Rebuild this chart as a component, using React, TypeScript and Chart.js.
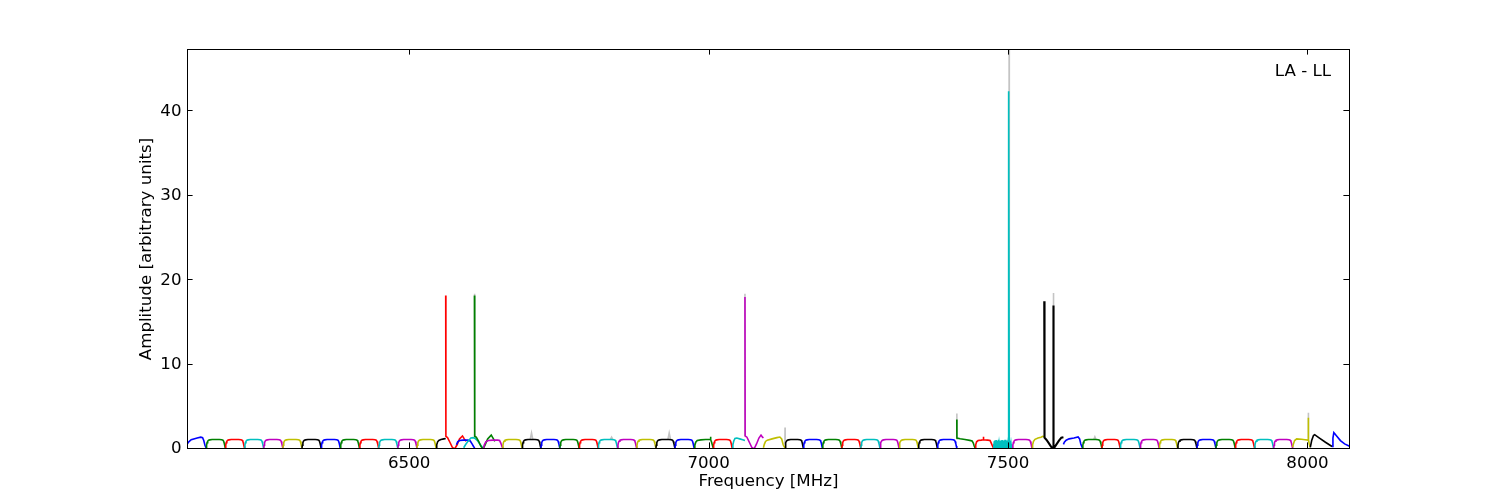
import React, { useEffect, useRef } from 'react';
import { Chart, registerables } from 'chart.js';

Chart.register(...registerables);

// ---------- axes ----------
const X_MIN = 6129;
const X_MAX = 8071;
const Y_MIN = 0;
const Y_MAX = 47.4;
const X_TICKS = [6500, 7000, 7500, 8000];
const Y_TICKS = [0, 10, 20, 30, 40];
const X_LABEL = 'Frequency [MHz]';
const Y_LABEL = 'Amplitude [arbitrary units]';
const PANEL_LABEL = 'LA - LL';

// ---------- colours (matplotlib classic cycle) ----------
const COLORS: Record<string, string> = {
  b: '#0000ff', g: '#008000', r: '#ff0000', c: '#00bfbf', m: '#bf00bf', y: '#bfbf00', k: '#000000',
};
const REF_COLOR = '#c4c4c4';

// ---------- typical sub-band bandpass (position within band, amplitude) ----------
const SHAPE_POS = [0, 0.022, 0.047, 0.078, 0.125, 0.19, 0.31, 0.5, 0.69, 0.81, 0.875, 0.915, 0.947, 0.975, 1];
const SHAPE_AMP = [0.12, 0.45, 0.75, 0.92, 1.03, 1.08, 1.12, 1.13, 1.12, 1.1, 1.05, 0.9, 0.65, 0.35, 0.12];

// ---------- regular sub-bands ----------
const STD_START = [
  6161, 6193, 6225, 6257, 6289, 6321, 6353, 6385, 6417, 6449, 6481, 6513,
  6655.8, 6688.6, 6719.8, 6751.5, 6783.8, 6815.5, 6847.9, 6879.7, 6912, 6943.7, 7007.7,
  7127.6, 7158.2, 7190, 7222.4, 7254, 7286.2, 7318, 7350.2, 7382, 7507.3,
  7624.2, 7656.7, 7687.2, 7720.6, 7752.4, 7783, 7815.4, 7847.1, 7879.4, 7911.6, 7943.4,
];
const STD_END = [
  6193, 6225, 6257, 6289, 6321, 6353, 6385, 6417, 6449, 6481, 6513, 6545,
  6688.6, 6719.8, 6751.5, 6783.8, 6815.5, 6847.9, 6879.7, 6912, 6943.7, 6975.9, 7039.4,
  7158.2, 7190, 7222.4, 7254, 7286.2, 7318, 7350.2, 7382, 7414.4, 7540,
  7656.7, 7687.2, 7720.6, 7752.4, 7783, 7815.4, 7847.1, 7879.4, 7911.6, 7943.4, 7975.1,
];
const STD_COLOR = [
  'g', 'r', 'c', 'm', 'y', 'k', 'b', 'g', 'r', 'c', 'm', 'y',
  'y', 'k', 'b', 'g', 'r', 'c', 'm', 'y', 'k', 'b', 'r',
  'k', 'b', 'g', 'r', 'c', 'm', 'y', 'k', 'b', 'm',
  'g', 'r', 'c', 'm', 'y', 'k', 'b', 'g', 'r', 'c', 'm',
];

// ---------- irregular sub-bands: [frequency MHz, amplitude] ----------
type Pt = [number, number];
const BAND_B_6129: Pt[] = [[6129, 0.55], [6132, 0.85], [6136, 1.1], [6146, 1.3], [6152, 1.4], [6155, 1.35], [6157, 1.0], [6159, 0.45], [6161, 0.12]];
const BAND_K_6545: Pt[] = [[6545, 0.12], [6546, 0.5], [6547.5, 0.85], [6549.5, 1.02], [6553, 1.12], [6558, 1.2], [6561, 1.25]];
const BAND_R_6561: Pt[] = [[6561, 18.2], [6561.3, 1.5], [6564, 1.35], [6568, 0.8], [6572, 0.2], [6576, 0.02], [6580, 0.5], [6584, 1.2], [6589, 1.55], [6592, 1.2], [6595, 0.9]];
const BAND_B_6579: Pt[] = [[6579, 0.5], [6581, 0.85], [6584, 1.0], [6590, 1.05], [6598, 1.05], [6602, 0.95], [6605, 0.6], [6607.5, 0.3], [6609.5, 0.12]];
const BAND_C_6591: Pt[] = [[6591, 0.15], [6594, 0.5], [6598, 0.9], [6603, 1.3], [6607, 1.35], [6610, 1.25], [6614, 1.0], [6618, 0.6], [6621, 0.3], [6623.5, 0.12]];
const BAND_G_6609: Pt[] = [[6609, 18.2], [6609.4, 1.5], [6612, 1.4], [6616, 0.9], [6620, 0.3], [6623.5, 0.02], [6627, 0.5], [6631, 1.2], [6637, 1.65], [6640, 1.3], [6643, 0.9]];
const BAND_M_6624: Pt[] = [[6624, 0.12], [6625.5, 0.5], [6628, 0.85], [6632, 1.0], [6640, 1.05], [6648, 1.05], [6651, 1.0], [6653, 0.7], [6655, 0.3], [6656, 0.12]];
const BAND_G_6976: Pt[] = [[6975.9, 0.12], [6977, 0.45], [6978.5, 0.8], [6981, 1.0], [6987, 1.08], [6995, 1.12], [7003, 1.12], [7003.3, 1.45], [7003.6, 1.1], [7005, 0.8], [7006.5, 0.4], [7007.7, 0.12]];
const BAND_C_7039: Pt[] = [[7039.4, 0.12], [7040.5, 0.5], [7042, 0.95], [7044, 1.25], [7047, 1.3], [7052, 1.2], [7057, 1.1], [7060.7, 1.0]];
const BAND_M_7061: Pt[] = [[7060.7, 18.0], [7061, 1.55], [7064, 1.4], [7068, 0.8], [7072, 0.2], [7076, 0.02], [7080, 0.6], [7084, 1.3], [7087.5, 1.65], [7090, 1.4], [7091.5, 1.3]];
const BAND_Y_7091: Pt[] = [[7091.5, 0.15], [7093, 0.55], [7095, 0.9], [7098, 1.05], [7106, 1.2], [7114, 1.35], [7119, 1.42], [7122, 1.2], [7124.5, 0.5], [7127.6, 0.12]];
const BAND_G_7414: Pt[] = [[7414.4, 3.5], [7414.6, 1.3], [7420, 1.22], [7428, 1.12], [7436, 1.02], [7440, 0.95], [7442, 0.7], [7443.5, 0.35], [7445, 0.12]];
const BAND_R_7445: Pt[] = [[7445, 0.12], [7446, 0.5], [7447.5, 0.85], [7450, 1.0], [7455, 1.05], [7458.3, 1.1], [7458.8, 1.45], [7459.3, 1.1], [7466, 1.05], [7470, 1.0], [7472, 0.7], [7474, 0.35], [7475.5, 0.12]];
const BAND_Y_7540: Pt[] = [[7540, 0.12], [7541, 0.5], [7542.5, 0.9], [7545, 1.15], [7550, 1.3], [7555, 1.4], [7558, 1.5], [7560.5, 1.45]];
const BAND_K_7560: Pt[] = [[7560.5, 17.5], [7560.9, 1.35], [7564, 1.1], [7568, 0.7], [7572, 0.25], [7575.6, 0.02], [7575.8, 17.0], [7576, 0.02], [7580, 0.45], [7585, 1.0], [7589, 1.35], [7592.5, 1.4]];
const BAND_B_7592: Pt[] = [[7592.5, 0.55], [7594, 0.8], [7597, 1.05], [7602, 1.2], [7610, 1.3], [7617, 1.42], [7619.5, 1.2], [7621.5, 0.6], [7624.2, 0.12]];
const BAND_Y_7975: Pt[] = [[7975.1, 0.2], [7976.5, 0.6], [7978.5, 1.0], [7982, 1.2], [7990, 1.15], [7996, 1.1], [8001.2, 1.05], [8001.4, 3.7], [8001.7, 1.1], [8003, 0.6], [8004.7, 0.2]];
const BAND_K_8005: Pt[] = [[8004.7, 0.2], [8007, 1.0], [8010, 1.6], [8012, 1.7], [8020, 1.3], [8030, 0.8], [8041, 0.3]];
const BAND_B_8041: Pt[] = [[8041, 0.3], [8042.5, 1.3], [8044, 1.95], [8048, 1.6], [8055, 1.0], [8062, 0.6], [8071, 0.3]];

// noisy cyan sub-band with the strong line near 7502 MHz (0.5 MHz channels)
const NOISE_C_START = 7475.5;
const NOISE_C_STEP = 0.5;
const NOISE_C_AMP = [
  0.12, 0.6, 0.2, 0.9, 0.1, 1.0, 0.3, 0.85, 0.05, 1.05, 0.25, 0.9, 0.1, 0.95, 0.4, 0.8,
  0.05, 1.1, 0.2, 0.7, 0.1, 0.95, 0.3, 1.0, 0.15, 0.85, 0.05, 0.9, 0.35, 1.05, 0.1, 0.8,
  0.2, 0.95, 0.05, 1.0, 0.3, 0.9, 0.1, 1.1, 0.25, 0.85, 0.05, 0.95, 0.2, 1.0, 0.1, 0.9,
  0.3, 0.8, 0.05, 1.05, 42.4, 0.9, 0.15, 1.0, 0.3, 0.85, 0.1, 0.6, 0.2, 0.12,
];

const SPECIAL_BANDS: [string, Pt[], number][] = [
  ['b', BAND_B_6129, 1.6], ['k', BAND_K_6545, 1.6], ['r', BAND_R_6561, 1.6], ['b', BAND_B_6579, 1.6],
  ['c', BAND_C_6591, 1.6], ['g', BAND_G_6609, 1.6], ['m', BAND_M_6624, 1.6], ['g', BAND_G_6976, 1.6],
  ['c', BAND_C_7039, 1.6], ['m', BAND_M_7061, 1.6], ['y', BAND_Y_7091, 1.6], ['g', BAND_G_7414, 1.6],
  ['r', BAND_R_7445, 1.6], ['y', BAND_Y_7540, 1.6], ['k', BAND_K_7560, 2.1], ['b', BAND_B_7592, 1.6],
  ['y', BAND_Y_7975, 1.6], ['k', BAND_K_8005, 1.6], ['b', BAND_B_8041, 1.6],
];

// ---------- grey reference spectrum (only visible where it exceeds the colours) ----------
const REF_SEGMENTS: Pt[][] = [
  [[6608.6, 1.5], [6609, 18.4], [6609.6, 1.8], [6610.5, 1.5]],
  [[6702, 1.1], [6704.3, 1.9], [6706.5, 1.1]],
  [[6836, 1.15], [6838, 1.4], [6840, 1.15]],
  [[6932, 1.1], [6934.2, 1.9], [6936.5, 1.1]],
  [[7060.4, 1.5], [7060.7, 18.4], [7061, 1.5]],
  [[7127.3, 0.5], [7127.6, 2.55], [7127.9, 0.5]],
  [[7414.1, 1.2], [7414.4, 4.2], [7414.7, 1.2]],
  [[7501.5, 1.0], [7501.8, 47.4], [7502.1, 1.0]],
  [[7575.5, 1.0], [7575.8, 18.5], [7576.1, 1.0]],
  [[7643, 1.1], [7645, 1.45], [7647, 1.1]],
  [[8001.1, 1.2], [8001.4, 4.3], [8001.7, 1.2]],
];

const FONT = 'DejaVu Sans';
const FONT_SIZE = 16.67;

export default function App() {
  const ref = useRef<HTMLCanvasElement | null>(null);

  useEffect(() => {
    if (!ref.current) return;

    type Band = { color: string; width: number; start: number; pts: { x: number; y: number }[] };
    const bands: Band[] = [];
    STD_START.forEach((s, i) => {
      const e = STD_END[i];
      bands.push({
        color: COLORS[STD_COLOR[i]], width: 1.6, start: s,
        pts: SHAPE_POS.map((p, j) => ({ x: s + p * (e - s), y: SHAPE_AMP[j] })),
      });
    });
    SPECIAL_BANDS.forEach(([c, pts, w]) => {
      bands.push({ color: COLORS[c], width: w, start: pts[0][0], pts: pts.map(([x, y]) => ({ x, y })) });
    });
    bands.push({
      color: COLORS.c, width: 1.6, start: NOISE_C_START,
      pts: NOISE_C_AMP.map((y, i) => ({ x: NOISE_C_START + i * NOISE_C_STEP, y })),
    });
    bands.sort((a, b) => a.start - b.start);

    const datasets: any[] = [];
    REF_SEGMENTS.forEach((seg) => {
      datasets.push({
        data: seg.map(([x, y]) => ({ x, y })),
        borderColor: REF_COLOR, borderWidth: 1.6, pointRadius: 0, tension: 0, order: 1000,
      });
    });
    bands.forEach((b, i) => {
      datasets.push({
        data: b.pts, borderColor: b.color, borderWidth: b.width, pointRadius: 0, tension: 0, order: -i,
      });
    });

    const framePlugin = {
      id: 'frame',
      afterDatasetsDraw(chart: any) {
        const { ctx, chartArea: a, scales } = chart;
        ctx.save();
        ctx.strokeStyle = '#000';
        ctx.lineWidth = 1;
        ctx.strokeRect(a.left + 0.5, a.top + 0.5, a.right - a.left - 1, a.bottom - a.top - 1);
        const tl = 5.6;
        ctx.beginPath();
        X_TICKS.forEach((v) => {
          const x = Math.round(scales.x.getPixelForValue(v)) + 0.5;
          ctx.moveTo(x, a.bottom - 1); ctx.lineTo(x, a.bottom - 1 - tl);
          ctx.moveTo(x, a.top); ctx.lineTo(x, a.top + tl);
        });
        Y_TICKS.forEach((v) => {
          const y = Math.round(scales.y.getPixelForValue(v)) - 0.5;
          ctx.moveTo(a.left, y); ctx.lineTo(a.left + tl, y);
          ctx.moveTo(a.right - 1, y); ctx.lineTo(a.right - 1 - tl, y);
        });
        ctx.stroke();
        ctx.fillStyle = '#000';
        ctx.font = `${FONT_SIZE}px "${FONT}"`;
        ctx.textAlign = 'right';
        ctx.textBaseline = 'alphabetic';
        ctx.fillText(PANEL_LABEL, a.right - 19, a.top + 27);
        ctx.restore();
      },
    };

    const chart = new Chart(ref.current, {
      type: 'line',
      data: { datasets },
      options: {
        animation: false,
        responsive: false,
        devicePixelRatio: 1,
        events: [],
        layout: { padding: { left: 0, right: 150, top: 49, bottom: 0 } },
        plugins: { legend: { display: false }, tooltip: { enabled: false } },
        font: { family: FONT, size: FONT_SIZE },
        scales: {
          x: {
            type: 'linear', min: X_MIN, max: X_MAX,
            grid: { display: false, drawTicks: false },
            border: { display: false },
            afterBuildTicks: (s: any) => { s.ticks = X_TICKS.map((v) => ({ value: v })); },
            afterFit: (s: any) => { s.height = 51; },
            ticks: {
              color: '#000', padding: 5, maxRotation: 0, autoSkip: false,
              font: { family: FONT, size: FONT_SIZE },
              callback: (v: any) => String(v),
            },
            title: {
              display: true, text: X_LABEL, color: '#000',
              font: { family: FONT, size: FONT_SIZE }, padding: { top: 0, bottom: 8 },
            },
          },
          y: {
            type: 'linear', min: Y_MIN, max: Y_MAX,
            grid: { display: false, drawTicks: false },
            border: { display: false },
            afterBuildTicks: (s: any) => { s.ticks = Y_TICKS.map((v) => ({ value: v })); },
            afterFit: (s: any) => { s.width = 187; },
            ticks: {
              color: '#000', padding: 5.5, autoSkip: false,
              font: { family: FONT, size: FONT_SIZE },
              callback: (v: any) => String(v),
            },
            title: {
              display: true, text: Y_LABEL, color: '#000',
              font: { family: FONT, size: FONT_SIZE }, padding: { top: 137, bottom: 0 },
            },
          },
        },
      },
      plugins: [framePlugin],
    } as any);

    return () => chart.destroy();
  }, []);

  return (
    <div style={{ position: 'absolute', left: 0, top: 0, width: 1500, height: 500, background: '#fff' }}>
      <canvas ref={ref} width={1500} height={500} style={{ display: 'block', width: 1500, height: 500 }} />
    </div>
  );
}
